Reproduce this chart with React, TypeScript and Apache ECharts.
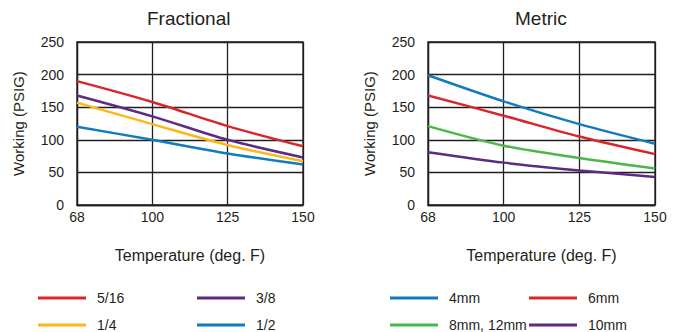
import React, { useEffect, useRef } from "react";
import * as echarts from "echarts";

const temps = ["68", "100", "125", "150"];
const yTicks = [0, 50, 100, 150, 200, 250];

const frac516 = [190, 158, 121, 90];
const frac38 = [168, 136, 100, 73];
const frac14 = [157, 124, 92, 67];
const frac12 = [120, 100, 79, 62];

const met4 = [199, 159, 124, 94];
const met6 = [168, 137, 105, 78];
const met812 = [121, 91, 72, 56];
const met10 = [81, 65, 53, 43];

const RED = "#d9262c";
const PURPLE = "#5c2c84";
const YELLOW = "#fdb817";
const BLUE = "#127bbf";
const GREEN = "#4ab748";
const INK = "#231f20";
const FONT = "'Liberation Sans', Arial, sans-serif";

export default function App() {
  const ref = useRef<HTMLDivElement>(null);
  useEffect(() => {
    if (!ref.current) return;
    const chart = echarts.init(ref.current, undefined, { renderer: "svg" });
    const xAxisBase = (gridIndex: number) => ({
      type: "category" as const,
      gridIndex,
      data: temps,
      boundaryGap: false,
      name: "Temperature (deg. F)",
      nameLocation: "middle" as const,
      nameGap: 42,
      nameTextStyle: { fontSize: 16, color: INK, fontFamily: FONT },
      axisLine: { lineStyle: { color: INK, width: 1.3 } },
      axisTick: { show: false },
      axisLabel: { fontSize: 14, color: INK, fontFamily: FONT, margin: 5 },
      splitLine: { show: true, lineStyle: { color: INK, width: 1.3 } },
    });
    const yAxisBase = (gridIndex: number) => ({
      type: "value" as const,
      gridIndex,
      min: yTicks[0],
      max: yTicks[yTicks.length - 1],
      interval: 50,
      name: "Working (PSIG)",
      nameLocation: "middle" as const,
      nameGap: 51,
      nameTextStyle: { fontSize: 15, color: INK, fontFamily: FONT },
      axisLine: { show: true, lineStyle: { color: INK, width: 1.3 } },
      axisTick: { show: false },
      axisLabel: { fontSize: 14, color: INK, fontFamily: FONT, margin: 13 },
      splitLine: { show: true, lineStyle: { color: INK, width: 1.3 } },
    });
    const line = (name: string, data: number[], color: string, idx: number) => ({
      name,
      type: "line" as const,
      xAxisIndex: idx,
      yAxisIndex: idx,
      data,
      smooth: 0.3,
      symbol: "none",
      lineStyle: { color, width: 2.5 },
      itemStyle: { color },
    });
    const legendBase = (left: number, data: string[]) => ({
      left,
      top: 291,
      height: 41,
      orient: "vertical" as const,
      icon: "rect",
      itemWidth: 48,
      itemHeight: 3,
      itemGap: 13,
      padding: 0,
      data,
      textStyle: { fontSize: 14, color: INK, fontFamily: FONT, padding: [0, 0, 0, 6] },
    });
    chart.setOption({
      animation: false,
      backgroundColor: "#ffffff",
      title: [
        { text: "Fractional", left: 147, top: 9, padding: 0, textStyle: { fontSize: 19, fontWeight: "normal", color: INK, fontFamily: FONT } },
        { text: "Metric", left: 515, top: 9, padding: 0, textStyle: { fontSize: 19, fontWeight: "normal", color: INK, fontFamily: FONT } },
      ],
      grid: [
        { left: 77, top: 42, width: 226, height: 163, show: true, borderColor: INK, borderWidth: 1.3 },
        { left: 428, top: 42, width: 227, height: 163, show: true, borderColor: INK, borderWidth: 1.3 },
      ],
      xAxis: [xAxisBase(0), xAxisBase(1)],
      yAxis: [yAxisBase(0), yAxisBase(1)],
      legend: [
        legendBase(38, ["5/16", "1/4"]),
        legendBase(197, ["3/8", "1/2"]),
        legendBase(390, ["4mm", "8mm, 12mm"]),
        legendBase(529, ["6mm", "10mm"]),
      ],
      series: [
        line("5/16", frac516, RED, 0),
        line("3/8", frac38, PURPLE, 0),
        line("1/4", frac14, YELLOW, 0),
        line("1/2", frac12, BLUE, 0),
        line("4mm", met4, BLUE, 1),
        line("6mm", met6, RED, 1),
        line("8mm, 12mm", met812, GREEN, 1),
        line("10mm", met10, PURPLE, 1),
      ],
    });
    return () => chart.dispose();
  }, []);
  return (
    <div
      ref={ref}
      style={{ position: "fixed", left: 0, top: 0, width: 681, height: 332, background: "#fff" }}
    />
  );
}
